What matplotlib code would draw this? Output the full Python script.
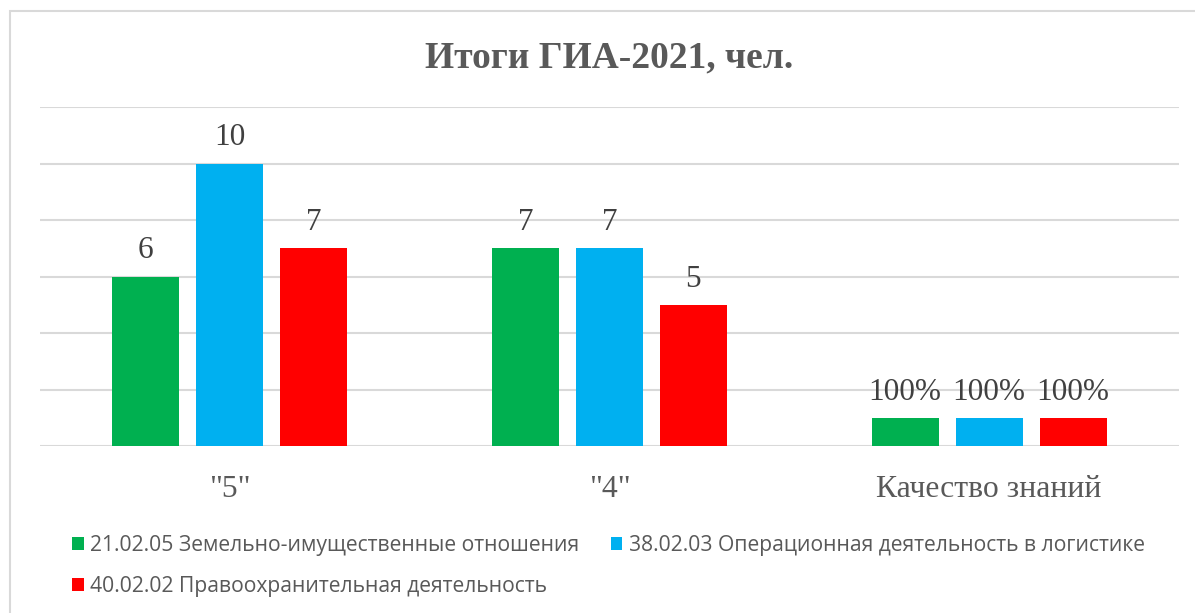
import matplotlib
matplotlib.use("Agg")
import matplotlib.pyplot as plt
from matplotlib.patches import Patch, Rectangle
import numpy as np

categories = ['"5"', '"4"', 'Качество знаний']
series_names = [
    "21.02.05 Земельно-имущественные отношения",
    "38.02.03 Операционная деятельность в логистике",
    "40.02.02 Правоохранительная деятельность",
]
values = [
    [6, 7, 1],
    [10, 7, 1],
    [7, 5, 1],
]
labels = [
    ["6", "7", "100%"],
    ["10", "7", "100%"],
    ["7", "5", "100%"],
]
colors = ["#00B050", "#00B0F0", "#FF0000"]
title = "Итоги ГИА-2021, чел."

W, H = 1195, 613
fig = plt.figure(figsize=(W / 100, H / 100), dpi=100)
fig.patch.set_facecolor("white")

# plot area in pixels
x0, x1 = 40, 1179
y0, y1 = 446, 107
ax = fig.add_axes([x0 / W, 1 - y0 / H, (x1 - x0) / W, (y0 - y1) / H])
ax.set_xlim(-0.5, 2.5)
ax.set_ylim(0, 12)
ax.set_yticks(np.arange(0, 13, 2))
ax.yaxis.grid(True, color="#D9D9D9", linewidth=1.5)
ax.set_axisbelow(True)
for s in ax.spines.values():
    s.set_visible(False)
ax.tick_params(axis="y", length=0, labelleft=False)
ax.tick_params(axis="x", length=0, pad=21)

x = np.arange(len(categories))
bw = 67 / 380
off = 84 / 380
serif = "Liberation Serif"
for i, (vals, labs, c) in enumerate(zip(values, labels, colors)):
    xs = x + (i - 1) * off
    bars = ax.bar(xs, vals, width=bw, color=c, zorder=3)
    for b, lab in zip(bars, labs):
        ax.annotate(lab, (b.get_x() + b.get_width() / 2, b.get_height()),
                    xytext=(0, 8), textcoords="offset points",
                    ha="center", va="bottom", fontsize=22.5,
                    family=serif, color="#404040")

ax.set_xticks(x)
ax.set_xticklabels(categories, fontsize=22.8, family=serif, color="#595959")

fig.text(0.51, 1 - 58 / H, title, ha="center", va="center", fontsize=27,
         family=serif, fontweight="bold", color="#595959")

handles = [Patch(facecolor=c) for c in colors]
order = [0, 2, 1]
leg = fig.legend([handles[k] for k in order], [series_names[k] for k in order],
                 ncol=2, loc="upper left", bbox_to_anchor=(53 / W, 1 - 516 / H),
                 frameon=False, handlelength=0.55, handleheight=0.55,
                 handletextpad=0.3, columnspacing=1.5, labelspacing=0.95,
                 prop={"family": "Open Sans", "size": 15.2})
for t in leg.get_texts():
    t.set_color("#595959")

# chart border
fig.add_artist(Rectangle((10 / W, -0.1), 1.2, 1 - 11 / H + 0.1,
                         transform=fig.transFigure, fill=False,
                         edgecolor="#D9D9D9", linewidth=1.5))

fig.savefig("out.png", dpi=100)
